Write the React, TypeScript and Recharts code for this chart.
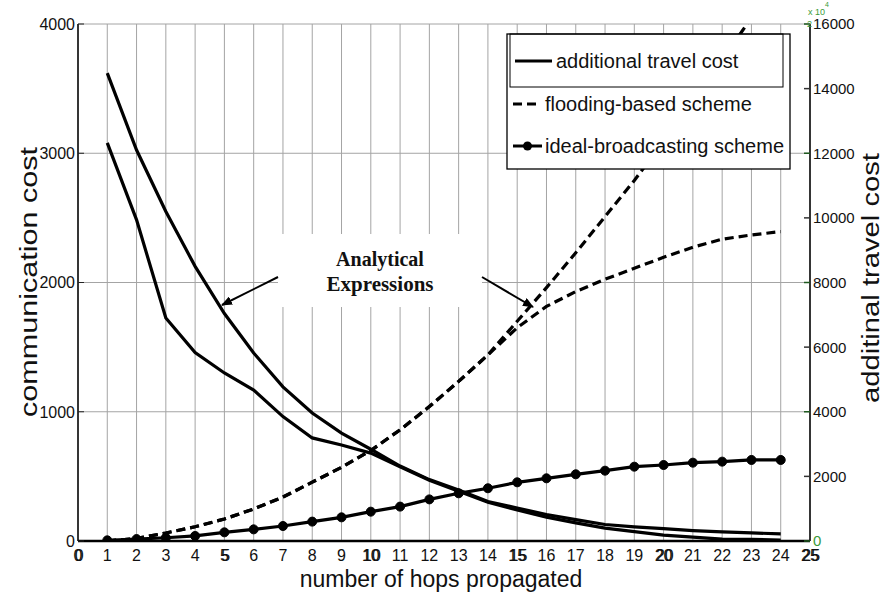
import React from 'react';
import { LineChart, Line, XAxis, YAxis, CartesianGrid } from 'recharts';

const FONT = '"Liberation Sans", Arial, sans-serif';
const SERIF = '"Liberation Serif", "Times New Roman", serif';

// number of hops
const hops = [1, 2, 3, 4, 5, 6, 7, 8, 9, 10, 11, 12, 13, 14, 15, 16, 17, 18, 19, 20, 21, 22, 23, 24];

// additional travel cost (right axis)
const travelAnalytic = [14480, 12100, 10200, 8500, 7040, 5820, 4770, 3960, 3340, 2840, 2320, 1900, 1580, 1220, 1020, 820, 660, 510, 440, 380, 320, 280, 250, 220];
const travelSimulated = [12320, 9940, 6900, 5830, 5200, 4670, 3850, 3190, 2970, 2720, 2300, 1880, 1540, 1200, 960, 740, 560, 400, 290, 180, 120, 60, 50, 30];

// communication cost (left axis)
const floodAnalytic = [0, 20, 62, 110, 170, 248, 340, 455, 570, 700, 860, 1040, 1235, 1440, 1700, 1960, 2230, 2510, 2790, 3090, 3400, 3720, 4050, 4390];
const floodSimulated = [0, 20, 62, 110, 170, 248, 340, 455, 570, 700, 860, 1040, 1235, 1440, 1650, 1815, 1930, 2025, 2110, 2195, 2273, 2335, 2368, 2394];
const idealBroadcast = [5, 15, 25, 39, 67, 90, 116, 150, 183, 227, 266, 322, 369, 408, 454, 485, 516, 544, 575, 588, 606, 614, 627, 627];

const xTicks = [0, 1, 2, 3, 4, 5, 6, 7, 8, 9, 10, 11, 12, 13, 14, 15, 16, 17, 18, 19, 20, 21, 22, 23, 24, 25];
const leftTicks = [0, 1000, 2000, 3000, 4000];
const rightTicks = [0, 2000, 4000, 6000, 8000, 10000, 12000, 14000, 16000];

const data = hops.map((h, i) => ({
  hop: h,
  travelA: travelAnalytic[i],
  travelS: travelSimulated[i],
  floodA: floodAnalytic[i],
  floodS: floodSimulated[i],
  ideal: idealBroadcast[i],
}));

const BottomTick = (props: any) => {
  const { x, y, payload } = props;
  const v = payload.value;
  return (
    <g>
      <text x={x} y={y} dy="0.71em" textAnchor="middle" fontSize={16} fill="#111" fontFamily={FONT}>{v}</text>
      {v % 5 === 0 && (
        <text x={x + 1.2} y={y} dy="0.71em" textAnchor="middle" fontSize={16} fill="#111" fontFamily={FONT}>{v}</text>
      )}
    </g>
  );
};

const TopTick = (props: any) => {
  const { x, y } = props;
  return <line x1={x} y1={y} x2={x} y2={y + 7} stroke="#222" strokeWidth={1} />;
};

const LeftTick = (props: any) => {
  const { x, y, payload } = props;
  return (
    <g>
      <line x1={x + 3} y1={y} x2={x + 9} y2={y} stroke="#222" strokeWidth={1} />
      <text x={x} y={y} dy="0.36em" textAnchor="end" fontSize={16} fill="#111" fontFamily={FONT}>{payload.value}</text>
    </g>
  );
};

const RightTick = (props: any) => {
  const { x, y, payload } = props;
  const green = payload.value === 0;
  return (
    <g>
      <line x1={x - 3} y1={y} x2={x - 9} y2={y} stroke={payload.value % 4000 === 0 ? '#1f5a1f' : '#333'} strokeWidth={1.5} />
      <text x={x} y={y} dy="0.36em" textAnchor="start" fontSize={15} fill={green ? '#3a9a3a' : '#111'} fontFamily={FONT}>{payload.value}</text>
    </g>
  );
};

const Overlay = () => (
  <svg width={883} height={600} style={{ position: 'absolute', left: 0, top: 0, pointerEvents: 'none' }}>
    {/* exponent note */}
    <text x={808} y={15} fontSize={9} fill="#3a9a3a" fontFamily={FONT}>x 10</text>
    <text x={825} y={7} fontSize={7} fill="#3a9a3a" fontFamily={FONT}>4</text>
    <text x={807} y={27} fontSize={9} fill="#3a9a3a" fontFamily={FONT}>2</text>

    {/* axis titles */}
    <text x={37} y={282} transform="rotate(-90 37 282)" textAnchor="middle" fontSize={23} fill="#111" fontFamily={FONT}
      textLength={270} lengthAdjust="spacingAndGlyphs">communication cost</text>
    <text x={879} y={278} transform="rotate(-90 879 278)" textAnchor="middle" fontSize={23} fill="#111" fontFamily={FONT}
      textLength={250} lengthAdjust="spacingAndGlyphs">additinal travel cost</text>
    <text x={441} y={587} textAnchor="middle" fontSize={23} fill="#111" fontFamily={FONT}>number of hops propagated</text>

    {/* annotation */}
    <rect x={278} y={234} width={204} height={73} fill="#fff" />
    <text x={380} y={266} textAnchor="middle" fontSize={20} fontWeight="bold" fill="#111" fontFamily={SERIF}>Analytical</text>
    <text x={380} y={291} textAnchor="middle" fontSize={21} fontWeight="bold" fill="#111" fontFamily={SERIF}>Expressions</text>
    <defs>
      <marker id="ah" markerWidth={11} markerHeight={9} refX={10} refY={4.5} orient="auto" markerUnits="userSpaceOnUse">
        <path d="M0,0 L11,4.5 L0,9 Z" fill="#000" />
      </marker>
    </defs>
    <line x1={278} y1={277} x2={222} y2={305} stroke="#000" strokeWidth={2} markerEnd="url(#ah)" />
    <line x1={482} y1={277} x2={533} y2={307} stroke="#000" strokeWidth={2} markerEnd="url(#ah)" />

    {/* legend */}
    <rect x={507} y={34} width={283} height={135} fill="#fff" stroke="#000" strokeWidth={1.3} />
    <rect x={510} y={34} width={273} height={53} fill="none" stroke="#000" strokeWidth={1} />
    <line x1={515} y1={61} x2={552} y2={61} stroke="#000" strokeWidth={3} />
    <text x={556} y={68} fontSize={20} fill="#111" fontFamily={FONT}>additional travel cost</text>
    <line x1={513} y1={104} x2={541} y2={104} stroke="#000" strokeWidth={3} strokeDasharray="9 5" />
    <text x={545} y={111} fontSize={20} fill="#111" fontFamily={FONT}>flooding-based scheme</text>
    <line x1={513} y1={146} x2={542} y2={146} stroke="#000" strokeWidth={3} />
    <circle cx={527.5} cy={146} r={4.5} fill="#000" />
    <text x={545} y={153} fontSize={20} fill="#111" fontFamily={FONT}>ideal-broadcasting scheme</text>
  </svg>
);

export default function App() {
  return (
    <div style={{ position: 'absolute', left: 0, top: 0, width: 883, height: 600, background: '#fff' }}>
      <LineChart width={883} height={600} data={data} margin={{ top: 24, right: 13, left: 18, bottom: 29 }}>
        <CartesianGrid xAxisId="bottom" yAxisId="left" stroke="#a4a4a4" strokeWidth={1} />
        <XAxis xAxisId="top" orientation="top" dataKey="hop" type="number" domain={[0, 25]} ticks={xTicks}
          height={0} tickSize={0} tickMargin={0} tick={<TopTick />} axisLine={{ stroke: '#000', strokeWidth: 1.5 }} />
        <XAxis xAxisId="bottom" dataKey="hop" type="number" domain={[0, 25]} ticks={xTicks} interval={0}
          height={30} tickSize={0} tickMargin={9} tick={<BottomTick />} axisLine={{ stroke: '#000', strokeWidth: 2.5 }} />
        <YAxis yAxisId="left" type="number" domain={[0, 4000]} ticks={leftTicks} allowDataOverflow interval={0}
          width={60} tickSize={0} tickMargin={3} tick={<LeftTick />} axisLine={{ stroke: '#000', strokeWidth: 1.5 }} />
        <YAxis yAxisId="right" orientation="right" type="number" domain={[0, 16000]} ticks={rightTicks} allowDataOverflow interval={0}
          width={60} tickSize={0} tickMargin={3} tick={<RightTick />} axisLine={{ stroke: '#000', strokeWidth: 1.5 }} />

        <Line xAxisId="bottom" yAxisId="right" type="linear" dataKey="travelA" stroke="#000" strokeWidth={3.2} dot={false} isAnimationActive={false} />
        <Line xAxisId="bottom" yAxisId="right" type="linear" dataKey="travelS" stroke="#000" strokeWidth={3.2} dot={false} isAnimationActive={false} />
        <Line xAxisId="bottom" yAxisId="left" type="linear" dataKey="floodA" stroke="#000" strokeWidth={3.2} strokeDasharray="9 5" dot={false} isAnimationActive={false} />
        <Line xAxisId="bottom" yAxisId="left" type="linear" dataKey="floodS" stroke="#000" strokeWidth={3.2} strokeDasharray="9 5" dot={false} isAnimationActive={false} />
        <Line xAxisId="bottom" yAxisId="left" type="linear" dataKey="ideal" stroke="#000" strokeWidth={3.2}
          dot={{ r: 4.5, fill: '#000', stroke: '#000', strokeWidth: 1 }} isAnimationActive={false} />
      </LineChart>
      <Overlay />
    </div>
  );
}
